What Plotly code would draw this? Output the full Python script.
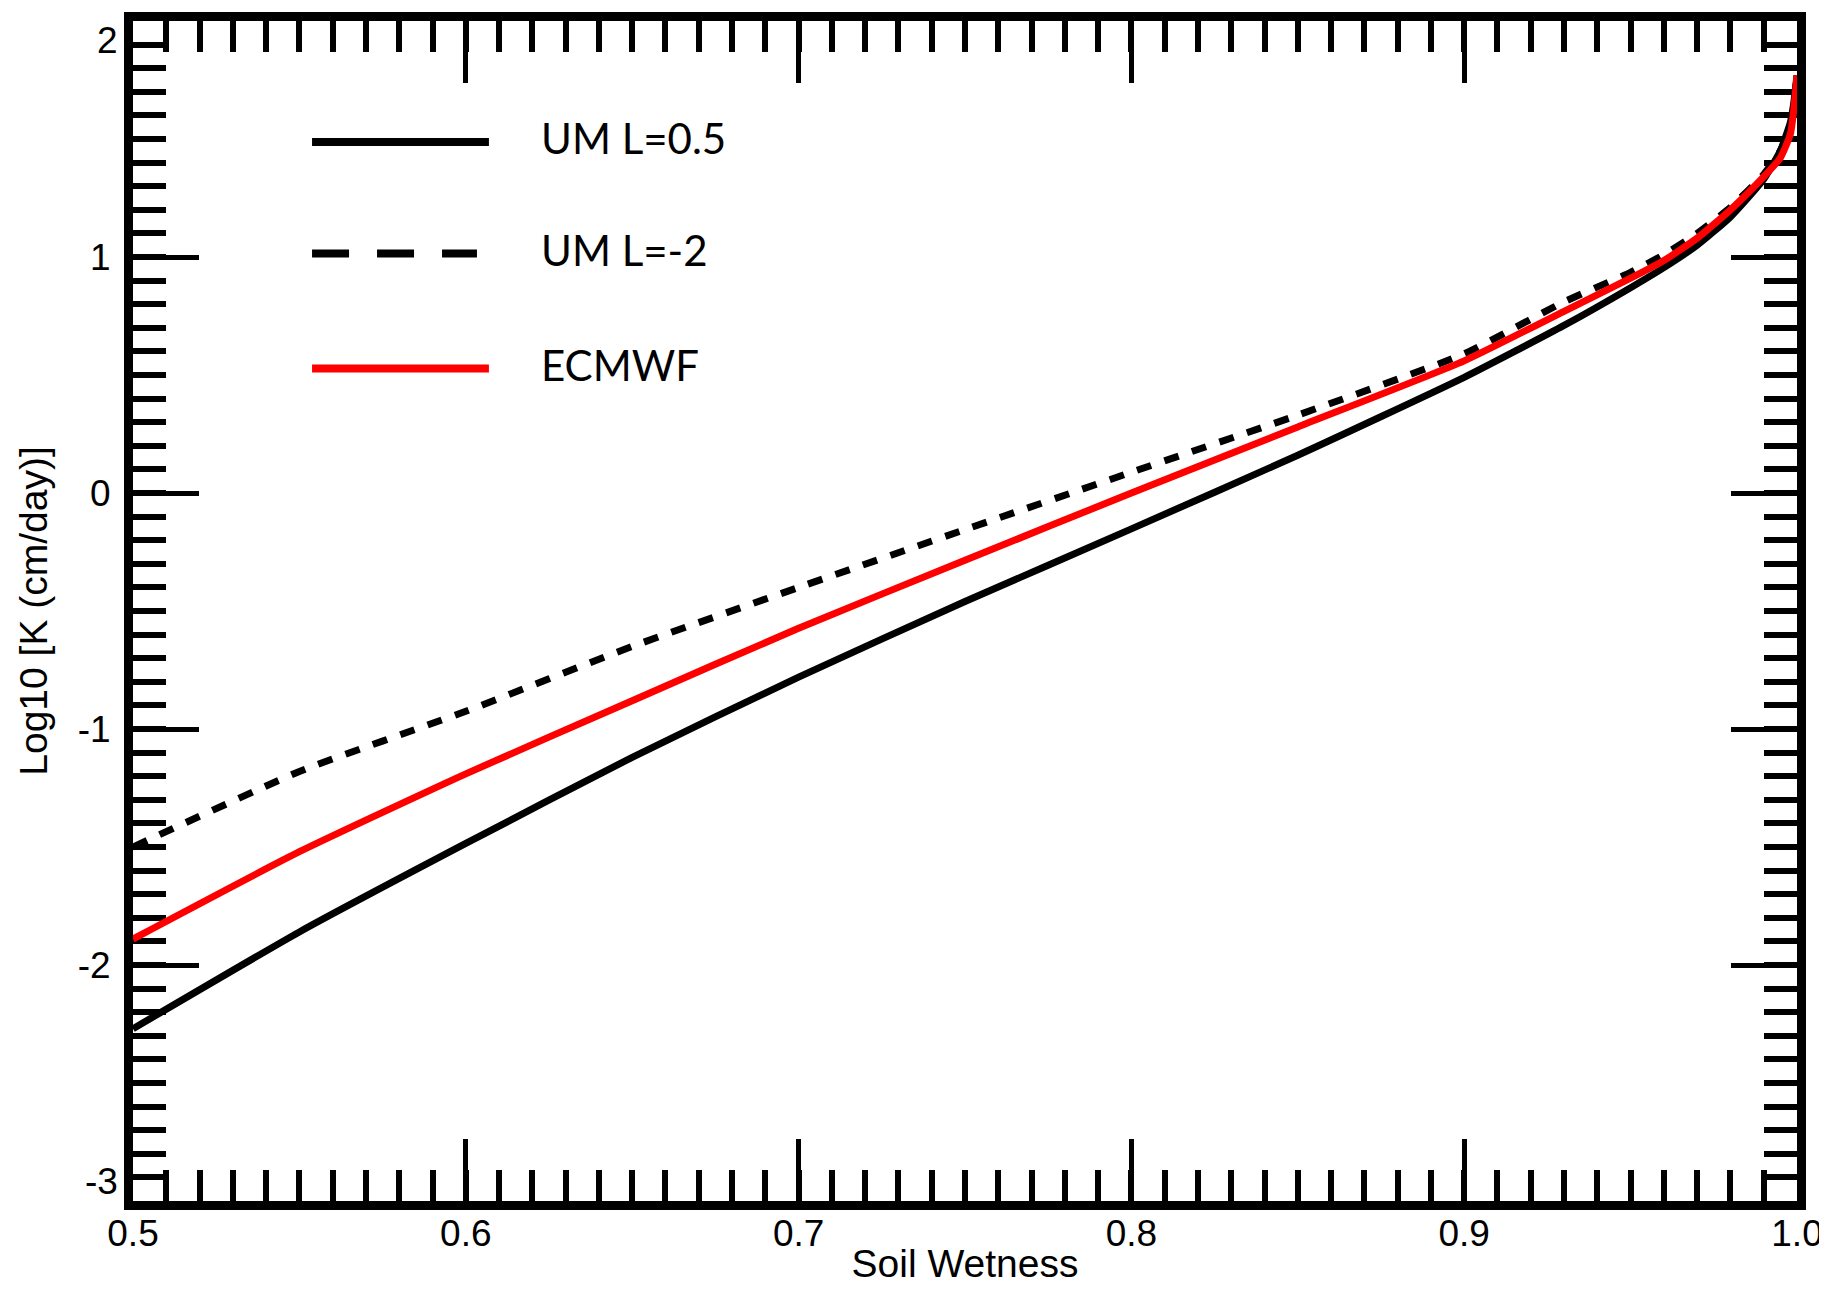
import plotly.graph_objects as go

# ---- data ----
soil_wetness = [0.5, 0.55, 0.6, 0.65, 0.7, 0.75, 0.8, 0.85, 0.9, 0.93, 0.95,
                0.96, 0.97, 0.98, 0.99, 0.995, 0.998, 0.999, 1.0]
um_l05 = [-2.27, -1.86, -1.485, -1.12, -0.78, -0.46, -0.152, 0.16, 0.49, 0.71, 0.87,
          0.955, 1.05, 1.17, 1.33, 1.45, 1.57, 1.65, 1.77]
um_lm2 = [-1.50, -1.18, -0.925, -0.65, -0.40, -0.155, 0.088, 0.33, 0.59, 0.81, 0.935,
          1.01, 1.10, 1.21, 1.35, 1.45, 1.55, 1.63, 1.77]
ecmwf = [-1.89, -1.52, -1.19, -0.88, -0.573, -0.285, 0.0, 0.28, 0.56, 0.77, 0.91,
         0.985, 1.08, 1.20, 1.34, 1.42, 1.52, 1.62, 1.77]

series_names = ["UM L=0.5", "UM L=-2", "ECMWF"]
x_tick_vals = [0.5, 0.6, 0.7, 0.8, 0.9, 1.0]
x_tick_text = ["0.5", "0.6", "0.7", "0.8", "0.9", "1.0"]
y_tick_vals = [-3, -2, -1, 0, 1, 2]
y_tick_text = ["-3", "-2", "-1", "0", "1", "2"]
x_title = "Soil Wetness"
y_title = "Log10 [K (cm/day)]"

AX_FONT = "Liberation Sans, Arial, Helvetica, sans-serif"
LEG_FONT = "Lato, Carlito, Calibri, sans-serif"

fig = go.Figure()
fig.add_trace(go.Scatter(x=soil_wetness, y=um_l05, mode="lines", name=series_names[0],
                         line=dict(color="black", width=7, shape="spline", smoothing=0.5)))
fig.add_trace(go.Scatter(x=soil_wetness, y=um_lm2, mode="lines", name=series_names[1],
                         line=dict(color="black", width=7, dash="15px,14px", shape="spline", smoothing=0.5)))
fig.add_trace(go.Scatter(x=soil_wetness, y=ecmwf, mode="lines", name=series_names[2],
                         line=dict(color="#ff0000", width=7, shape="spline", smoothing=0.5)))

common = dict(showline=True, linecolor="black", linewidth=9, mirror="allticks",
              ticks="inside", tickcolor="black", tickwidth=5, showgrid=False,
              zeroline=False, layer="below traces", ticklabeloverflow="allow",
              tickfont=dict(family=AX_FONT, size=37, color="black"))

fig.update_xaxes(range=[0.5, 1.0], tickmode="array", tickvals=x_tick_vals, ticktext=x_tick_text,
                 ticklen=62, ticklabelstandoff=-8,
                 minor=dict(tickmode="linear", tick0=0.5, dtick=0.01, ticks="inside",
                            ticklen=31, tickwidth=6, tickcolor="black"),
                 title=dict(text=x_title, font=dict(family=AX_FONT, size=39, color="black"), standoff=0),
                 automargin=False, **common)

# end labels of the y axis sit inside the frame (as in the reference), the rest are tick labels
y_tick_text_axis = [""] + y_tick_text[1:-1] + [""]
fig.update_yaxes(range=[-3, 2], tickmode="array", tickvals=y_tick_vals, ticktext=y_tick_text_axis,
                 ticklen=66, ticklabelstandoff=6,
                 minor=dict(tickmode="linear", tick0=-3, dtick=0.1, ticks="inside",
                            ticklen=33, tickwidth=6, tickcolor="black"),
                 title=dict(text=y_title, font=dict(family=AX_FONT, size=39, color="black"), standoff=22),
                 automargin=False, **common)
for val, txt, anchor in [(y_tick_vals[0], y_tick_text[0], "bottom"),
                         (y_tick_vals[-1], y_tick_text[-1], "top")]:
    fig.add_annotation(xref="paper", yref="y", x=0, y=val, text=txt, showarrow=False,
                       xanchor="right", yanchor=anchor, xshift=-13,
                       yshift=(-3 if anchor == "bottom" else 3),
                       font=dict(family=AX_FONT, size=37, color="black"))

# legend drawn as line samples + text (paper coordinates)
leg_y = [0.8975, 0.8030, 0.7055]
leg_styles = [dict(color="black", width=8, dash="solid"),
              dict(color="black", width=8, dash="37px,28px"),
              dict(color="#ff0000", width=8, dash="solid")]
leg_x0 = 0.1076
leg_x1 = [0.2139, 0.2067, 0.2139]
for name, yy, st, x1 in zip(series_names, leg_y, leg_styles, leg_x1):
    fig.add_shape(type="line", xref="paper", yref="paper", x0=leg_x0, x1=x1, y0=yy, y1=yy,
                  line=st)
    fig.add_annotation(xref="paper", yref="paper", x=0.2440, y=yy + 0.003, text=name,
                       showarrow=False, xanchor="left", yanchor="middle",
                       font=dict(family=LEG_FONT, size=42, color="black"))

fig.update_layout(width=1827, height=1292, showlegend=False,
                  paper_bgcolor="white", plot_bgcolor="white",
                  margin=dict(l=125, r=38, t=13, b=99))

fig.write_html("out.html")
